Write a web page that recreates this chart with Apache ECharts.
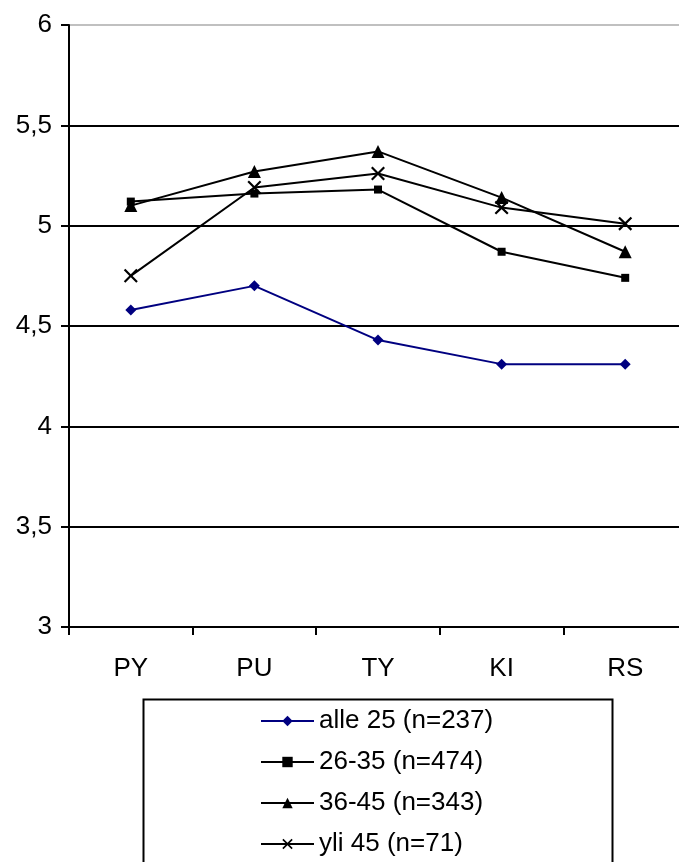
<!DOCTYPE html>
<html>
<head>
<meta charset="utf-8">
<script src="https://cdn.jsdelivr.net/npm/echarts@6/dist/echarts.min.js"></script>
<style>
  html, body { margin: 0; padding: 0; background: #fff; }
  #chart { width: 679px; height: 862px; }
</style>
</head>
<body>
<div id="chart"></div>
<script>
// Category labels along the x axis
const categories = ['PY', 'PU', 'TY', 'KI', 'RS'];

// Mean scores per age group
const alle25 = [4.58, 4.70, 4.43, 4.31, 4.31];
const age26to35 = [5.12, 5.16, 5.18, 4.87, 4.74];
const age36to45 = [5.10, 5.27, 5.37, 5.14, 4.87];
const yli45 = [4.75, 5.19, 5.26, 5.09, 5.01];

// Series names shown in the legend
const seriesNames = ['alle 25 (n=237)', '26-35 (n=474)', '36-45 (n=343)', 'yli 45 (n=71)'];

// Y axis range and step
const yMin = 3, yMax = 6, yStep = 0.5;

const FONT = 'Liberation Sans, Arial, sans-serif';
// X-shaped marker as a filled outline
const crossPath = 'path://M0,1.1L1.1,0L5,3.9L8.9,0L10,1.1L6.1,5L10,8.9L8.9,10L5,6.1L1.1,10L0,8.9L3.9,5Z';

const chart = echarts.init(document.getElementById('chart'), null, { renderer: 'canvas' });

function lineSeries(name, data, color, symbol, size) {
  return {
    name: name,
    type: 'line',
    data: data,
    symbol: symbol,
    symbolSize: size,
    showAllSymbol: true,
    lineStyle: { color: color, width: 2 },
    itemStyle: { color: color },
    emphasis: { disabled: true },
    animation: false
  };
}

chart.setOption({
  backgroundColor: '#fff',
  animation: false,
  grid: {
    left: 69, top: 25, width: 618, height: 602,
    containLabel: false,
    outerBoundsMode: 'none'
  },
  xAxis: {
    type: 'category',
    data: categories,
    boundaryGap: true,
    axisLine: { lineStyle: { color: '#000', width: 2 } },
    axisTick: { show: true, length: 8, lineStyle: { color: '#000', width: 2 } },
    axisLabel: { color: '#000', fontFamily: FONT, fontSize: 26, margin: 29 },
    splitLine: { show: false }
  },
  yAxis: {
    type: 'value',
    min: yMin,
    max: yMax,
    interval: yStep,
    axisLine: { show: true, lineStyle: { color: '#000', width: 2 } },
    axisTick: { show: true, length: 8, lineStyle: { color: '#000', width: 2 } },
    axisLabel: {
      color: '#000', fontFamily: FONT, fontSize: 26, margin: 17,
      formatter: v => String(v).replace('.', ',')
    },
    splitLine: {
      show: true,
      lineStyle: {
        color: ['#000', '#000', '#000', '#000', '#000', '#000', '#c0c0c0'],
        width: 2
      }
    }
  },
  legend: {
    orient: 'vertical',
    left: 260,
    top: 708,
    height: 160,
    padding: 0,
    itemWidth: 53,
    itemHeight: 13,
    itemGap: 15,
    textStyle: { color: '#000', fontFamily: FONT, fontSize: 26, lineHeight: 26 },
    data: seriesNames
  },
  graphic: [{
    type: 'rect',
    shape: { x: 143.5, y: 699.5, width: 469, height: 200 },
    style: { fill: 'none', stroke: '#000', lineWidth: 2 },
    z: -1,
    silent: true
  }],
  series: [
    lineSeries(seriesNames[0], alle25, '#000080', 'diamond', 11),
    lineSeries(seriesNames[1], age26to35, '#000', 'rect', 8),
    lineSeries(seriesNames[2], age36to45, '#000', 'triangle', 13),
    lineSeries(seriesNames[3], yli45, '#000', crossPath, 14)
  ]
});
</script>
</body>
</html>
